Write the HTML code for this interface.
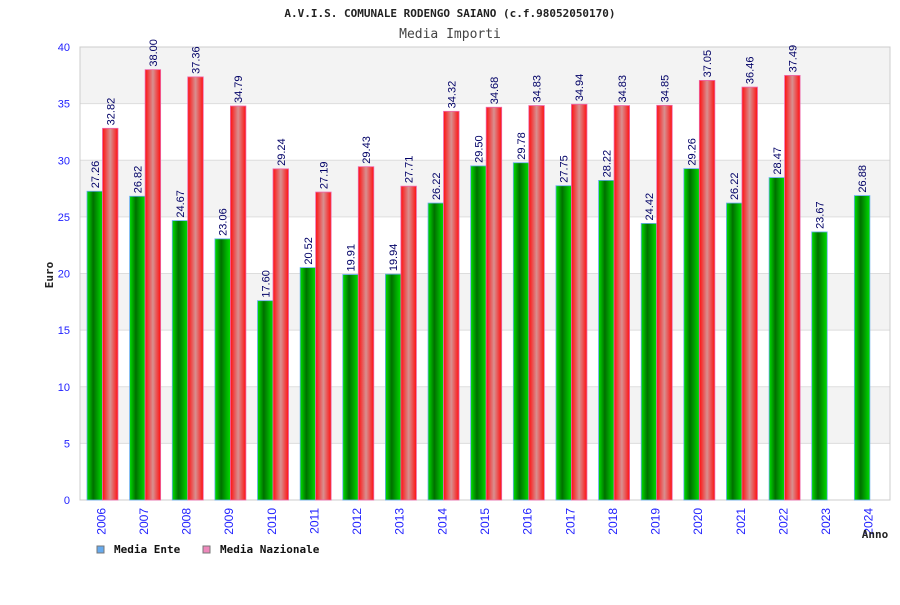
<!DOCTYPE html>
<html><head><meta charset="utf-8"><style>
body{margin:0;background:#fff;}
svg text{font-family:"DejaVu Sans Mono","Liberation Mono",monospace;}
svg text.s{font-family:"Liberation Sans","DejaVu Sans",sans-serif;}
</style></head><body>
<svg id="chart" width="900" height="600" xmlns="http://www.w3.org/2000/svg">
<defs>
<linearGradient id="gG" x1="0" x2="1" y1="0" y2="0">
<stop offset="0" stop-color="#00e000"/><stop offset="0.4" stop-color="#007000"/><stop offset="1" stop-color="#00dd00"/></linearGradient>
<linearGradient id="gR" x1="0" x2="1" y1="0" y2="0">
<stop offset="0" stop-color="#ff1010"/><stop offset="0.5" stop-color="#d89090"/><stop offset="1" stop-color="#ff1010"/></linearGradient>
</defs>
<text x="450" y="17" text-anchor="middle" font-size="11" font-weight="bold" fill="#222">A.V.I.S. COMUNALE RODENGO SAIANO (c.f.98052050170)</text>
<text x="450" y="38" text-anchor="middle" font-size="13" fill="#444">Media Importi</text>
<g id="bands"></g><g id="bars"></g>
<text transform="translate(53,275) rotate(-90)" text-anchor="middle" font-size="11" font-weight="bold" fill="#222">Euro</text>
<text x="875" y="538" text-anchor="middle" font-size="11" font-weight="bold" fill="#222">Anno</text>
<g>
<rect x="97" y="546" width="7" height="7" fill="#66aaee" stroke="#777"/>
<text x="114" y="553" font-size="11" font-weight="bold" fill="#111">Media Ente</text>
<rect x="203" y="546" width="7" height="7" fill="#ee88bb" stroke="#777"/>
<text x="220" y="553" font-size="11" font-weight="bold" fill="#111">Media Nazionale</text>
</g>
</svg>
<script>
const categories=["2006","2007","2008","2009","2010","2011","2012","2013","2014","2015","2016","2017","2018","2019","2020","2021","2022","2023","2024"];
const ente=[27.26,26.82,24.67,23.06,17.60,20.52,19.91,19.94,26.22,29.50,29.78,27.75,28.22,24.42,29.26,26.22,28.47,23.67,26.88];
const nazionale=[32.82,38.00,37.36,34.79,29.24,27.19,29.43,27.71,34.32,34.68,34.83,34.94,34.83,34.85,37.05,36.46,37.49,null,null];
const yTicks=[0,5,10,15,20,25,30,35,40];
const NS="http://www.w3.org/2000/svg";
const L=80,R=890,T=47,B=500,yMax=40;
const y=v=>B-(v/yMax)*(B-T);
const band=(R-L)/categories.length;
const x=i=>L+i*band;
function mk(t,a,p){const e=document.createElementNS(NS,t);for(const k in a)e.setAttribute(k,a[k]);(p||document.getElementById('chart')).appendChild(e);return e;}
const bands=document.getElementById('bands'),bars=document.getElementById('bars');
for(let i=0;i<yTicks.length-1;i++){
 const r=mk('rect',{x:L,y:y(yTicks[i+1]),width:R-L,height:y(yTicks[i])-y(yTicks[i+1]),fill:(i%2==1)?'#f3f3f3':'#fff'},bands);
 
 
}
yTicks.forEach(t=>{
 const l=mk('line',{x1:L,x2:R,y1:y(t),y2:y(t),stroke:'#ddd'},bands);
 
 
 const tx=mk('text',{x:70,y:y(t)+4,'text-anchor':'end','font-size':11,fill:'#2222ff',class:'s'},bands);
 tx.textContent=t;
 
 
});
const frame=mk('rect',{x:L,y:T,width:R-L,height:B-T,fill:'none',stroke:'#ccc'},bands);


function label(v,cx){
 const t=mk('text',{transform:`translate(${cx+4},${y(v)-3}) rotate(-90)`,'font-size':11,fill:'#000066',class:'s'},bars);
 t.textContent=v.toFixed(2);
 
 
}
categories.forEach((c,i)=>{
 const gx=x(i)+7,w=15.5;
 const g=mk('rect',{x:gx,y:y(ente[i]),width:w,height:B-y(ente[i]),fill:'url(#gG)',stroke:'#66aaee','stroke-width':0.8},bars);
 
 
 label(ente[i],gx+w/2);
 if(nazionale[i]!=null){
  const rx=gx+w;
  const r=mk('rect',{x:rx,y:y(nazionale[i]),width:w,height:B-y(nazionale[i]),fill:'url(#gR)',stroke:'#ee66aa','stroke-width':0.8},bars);
  
  
  label(nazionale[i],rx+w/2);
 }
 const t=mk('text',{transform:`translate(${x(i)+band/2+4},${508}) rotate(-90)`,'text-anchor':'end','font-size':12,fill:'#2222ff',class:'s'},bars);
 t.textContent=c;
 
 
});
</script>
</body></html>
